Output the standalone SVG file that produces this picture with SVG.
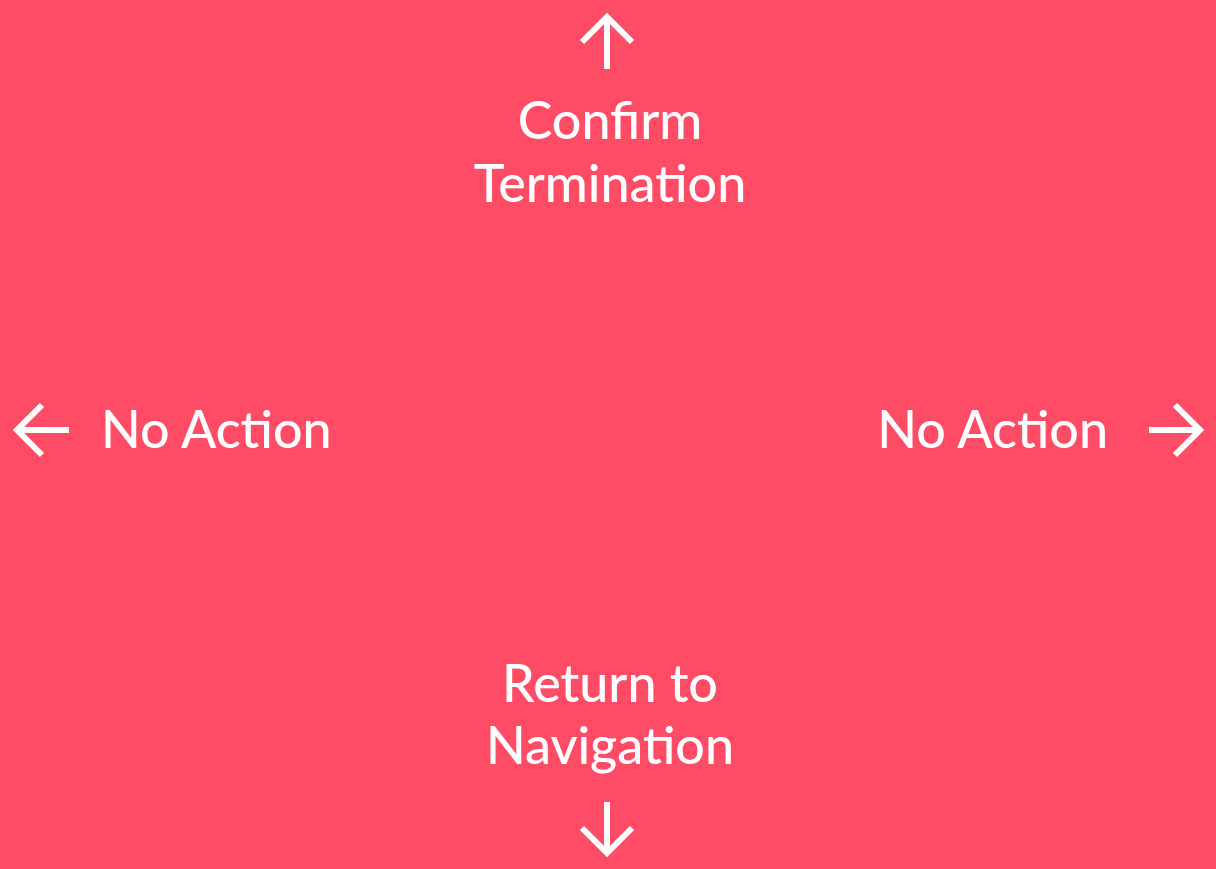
<svg xmlns="http://www.w3.org/2000/svg" width="1216" height="869" viewBox="0 0 1216 869">
<style>
.t{font-family:Lato,"Noto Sans",sans-serif;font-size:52px;font-weight:500;fill:#ffffff;}
.a{fill:none;stroke:#ffffff;stroke-width:6;stroke-linecap:butt;stroke-linejoin:miter;}
</style>
<rect width="1216" height="869" fill="#FF4C66"/>
<g id="connectors">
<path class="a" d="M607 69V17M582 42L607 17L632 42"/>
<path class="a" d="M607 802V853M582 828L607 853L632 828"/>
<path class="a" d="M69 430H17M42 405L17 430L42 455"/>
<path class="a" d="M1149 430H1200M1175 405L1200 430L1175 455"/>
</g>
<g id="confirm"><text class="t" x="610" y="139" text-anchor="middle">Confirm</text><text class="t" x="610" y="202" text-anchor="middle">Termination</text></g>
<g id="return"><text class="t" x="610" y="702" text-anchor="middle">Return to</text><text class="t" x="610" y="764" text-anchor="middle">Navigation</text></g>
<g id="noaction-left"><text class="t" x="101" y="448">No Action</text></g>
<g id="noaction-right"><text class="t" x="1108" y="448" text-anchor="end">No Action</text></g>
</svg>
